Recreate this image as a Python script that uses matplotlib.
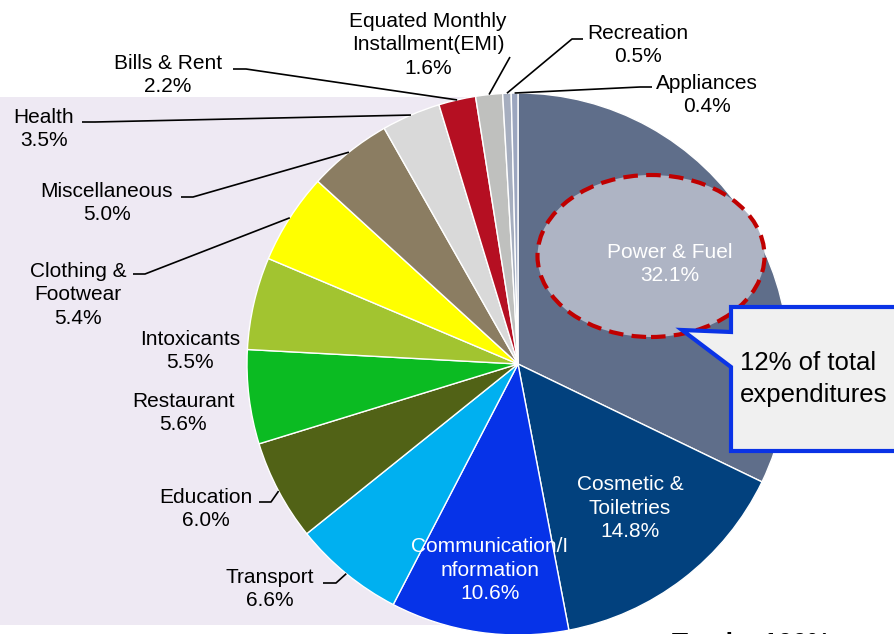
import numpy as np
import matplotlib
matplotlib.use("Agg")
import matplotlib.pyplot as plt
from matplotlib.patches import Rectangle, Ellipse, Polygon

plt.rcParams['font.family'] = ['Liberation Sans', 'DejaVu Sans']

# Data
categories = ["Power & Fuel", "Cosmetic &\nToiletries", "Communication/I\nnformation",
              "Transport", "Education", "Restaurant", "Intoxicants",
              "Clothing &\nFootwear", "Miscellaneous", "Health", "Bills & Rent",
              "Equated Monthly\nInstallment(EMI)", "Recreation", "Appliances"]
shares = [32.1, 14.8, 10.6, 6.6, 6.0, 5.6, 5.5, 5.4, 5.0, 3.5, 2.2, 1.6, 0.5, 0.4]
colors = ["#5F6E8A", "#02417E", "#0633E8", "#00B0F0", "#516216", "#0BBB22",
          "#A2C430", "#FFFF00", "#8B7D62", "#D9D9D9", "#B50F22", "#BFC0BE",
          "#A6AEBF", "#9CA6BF"]

W, H = 894, 634
CX, CY, R = 518, 364, 271   # pie centre / radius in pixel coords (y down)


def py(y):
    # convert top-down pixel y to axes y
    return H - y


# label layout: text centre (px), leader elbow (px), leader end x (px); None = no leader
label_layout = {
    "Power & Fuel": ((670, 264), None, None),
    "Cosmetic &\nToiletries": ((630, 508), None, None),
    "Communication/I\nnformation": ((490, 570), None, None),
    "Transport": ((270, 589), (336, 583), 323),
    "Education": ((206, 509), (271, 502), 259),
    "Restaurant": ((183, 413), None, None),
    "Intoxicants": ((190, 351), None, None),
    "Clothing &\nFootwear": ((78, 295), (145, 274), 133),
    "Miscellaneous": ((107, 203), (193, 197), 181),
    "Health": ((44, 129), (95, 122), 82),
    "Bills & Rent": ((168, 75), (246, 69), 233),
    "Equated Monthly\nInstallment(EMI)": ((428, 45), (510, 57), 510),
    "Recreation": ((638, 45), (572, 39), 583),
    "Appliances": ((707, 95), (640, 87), 652),
}
inside = ["Power & Fuel", "Cosmetic &\nToiletries", "Communication/I\nnformation"]

fig = plt.figure(figsize=(W / 100, H / 100), dpi=100)
ax = fig.add_axes([0, 0, 1, 1])

# lavender background panel
ax.add_patch(Rectangle((0, py(625)), 560, 625 - 97, facecolor="#EEE9F3",
                       edgecolor='none', zorder=0))

wedges, _ = ax.pie(shares, colors=colors, startangle=90, counterclock=False,
                   center=(CX, py(CY)), radius=R, frame=True,
                   wedgeprops=dict(edgecolor='white', linewidth=1))
for w in wedges:
    w.set_zorder(2)
ax.set_xlim(0, W)
ax.set_ylim(0, H)
ax.set_aspect('equal')
ax.axis('off')

# highlight ellipse on Power & Fuel
ax.add_patch(Ellipse((651, py(256)), 227, 162, facecolor="#AEB4C4",
                     edgecolor="#C00000", linewidth=3, linestyle=(0, (3.5, 2)),
                     zorder=3))

# labels and leaders
total = sum(shares)
cum = 0.0
for cat, val in zip(categories, shares):
    mid = (cum + val / 2) / total * 360.0
    cum += val
    (tx, ty), elbow, endx = label_layout[cat]
    txt = f"{cat}\n{val:.1f}%"
    col = 'white' if cat in inside else 'black'
    ax.text(tx, py(ty), txt, ha='center', va='center', fontsize=15,
            color=col, linespacing=1.3, zorder=6)
    if elbow is not None:
        ex = CX + R * np.sin(np.radians(mid))
        ey = CY - R * np.cos(np.radians(mid))
        xs = [ex, elbow[0], endx]
        ys = [py(ey), py(elbow[1]), py(elbow[1])]
        ax.plot(xs, ys, color='black', linewidth=1.2, zorder=5,
                solid_capstyle='butt')

# callout box
callout = [(731, 307), (900, 307), (900, 451), (731, 451), (731, 367),
           (682, 330), (731, 332)]
ax.add_patch(Polygon([(x, py(y)) for x, y in callout], closed=True,
                     facecolor="#F0F0F0", edgecolor="#0A33E6", linewidth=3,
                     joinstyle='miter', zorder=7))
ax.text(740, py(379), "12% of total\nexpenditures", ha='left', va='center',
        fontsize=18.5, color='black', linespacing=1.45, zorder=8)

ax.text(672, py(632), "Total = 100%", ha='left', va='top', fontsize=19,
        fontweight='bold', color='black', zorder=8)

fig.savefig("out.png", dpi=100)
